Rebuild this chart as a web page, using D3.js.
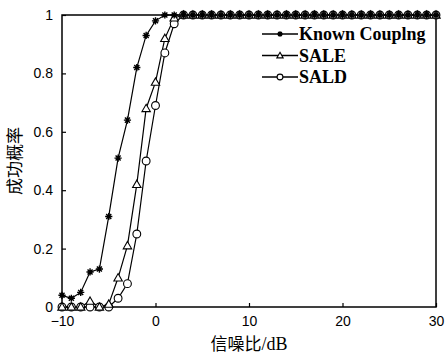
<!DOCTYPE html>
<html><head><meta charset="utf-8">
<script src="https://cdn.jsdelivr.net/npm/d3@7"></script>
<style>body{margin:0;background:#fff;}svg{display:block;}</style>
</head><body><svg id="c" width="446" height="357"></svg>
<script>
const snr = d3.range(-10, 31, 1);
const knownLow = [0.04,0.03,0.05,0.12,0.13,0.31,0.51,0.64,0.82,0.93,0.98,1.0];
const saleLow  = [0,0,0,0.02,0,0.01,0.10,0.21,0.42,0.68,0.77,0.92,0.99];
const saldLow  = [0,0,0,0,0,0,0.03,0.08,0.25,0.50,0.69,0.87,0.97];
const seriesNames = ["Known Couplng","SALE","SALD"];
const xTicks = [-10,0,10,20,30];
const yTicks = [0,0.2,0.4,0.6,0.8,1];
const yTickLabels = ["0","0.2","0.4","0.6","0.8","1"];

function full(low){ return snr.map((x,i)=> i<low.length ? low[i] : 1); }
const series = [
  {name:seriesNames[0], values: full(knownLow), marker:"star"},
  {name:seriesNames[1], values: full(saleLow), marker:"tri"},
  {name:seriesNames[2], values: full(saldLow), marker:"circ"}
];

const svg = d3.select("#c");
const L=62, R=436, T=15, B=307;
const x = d3.scaleLinear().domain([-10,30]).range([L,R]);
const y = d3.scaleLinear().domain([0,1]).range([B,T]);

function drawMarker(g, type, cx, cy, s){
  if(type==="star"){
    const r=3.6*s;
    g.append("path").attr("d",`M${cx-r},${cy}L${cx+r},${cy}M${cx},${cy-r}L${cx},${cy+r}M${cx-r*0.7},${cy-r*0.7}L${cx+r*0.7},${cy+r*0.7}M${cx-r*0.7},${cy+r*0.7}L${cx+r*0.7},${cy-r*0.7}`)
      .attr("stroke","#000").attr("stroke-width",1.4).attr("fill","none");
  } else if(type==="tri"){
    const w=4.2*s, h=4.2*s;
    g.append("path").attr("d",`M${cx},${cy-h}L${cx+w},${cy+h*0.75}L${cx-w},${cy+h*0.75}Z`)
      .attr("stroke","#000").attr("stroke-width",1.1).attr("fill","#fff");
  } else {
    g.append("circle").attr("cx",cx).attr("cy",cy).attr("r",3.9*s)
      .attr("stroke","#000").attr("stroke-width",1.1).attr("fill","#fff");
  }
}

svg.append("rect").attr("x",L).attr("y",T).attr("width",R-L).attr("height",B-T)
  .attr("fill","none").attr("stroke","#000").attr("stroke-width",1.5);

const xAxis = d3.axisBottom(x).tickValues(xTicks).tickSizeInner(-4).tickSizeOuter(0).tickPadding(9);
const gx = svg.append("g").attr("transform",`translate(0,${B})`).call(xAxis);
gx.select(".domain").remove();
gx.selectAll("line").attr("stroke","#000").attr("stroke-width",1.2);
gx.selectAll("text").attr("font-family","Liberation Sans, Arial, sans-serif").attr("font-size",14).attr("fill","#000");

const yAxis = d3.axisLeft(y).tickValues(yTicks).tickFormat((d,i)=>yTickLabels[i]).tickSizeInner(-4).tickSizeOuter(0).tickPadding(9);
const gy = svg.append("g").attr("transform",`translate(${L},0)`).call(yAxis);
gy.select(".domain").remove();
gy.selectAll("line").attr("stroke","#000").attr("stroke-width",1.2);
gy.selectAll("text").attr("font-family","Liberation Sans, Arial, sans-serif").attr("font-size",14).attr("fill","#000");

const line = d3.line().x((d,i)=>x(snr[i])).y(d=>y(d));
const gp = svg.append("g");
series.forEach(s=>{
  gp.append("path").datum(s.values).attr("d",line).attr("fill","none").attr("stroke","#000").attr("stroke-width",1.2);
});
series.slice().reverse().forEach(s=>{
  s.values.forEach((v,i)=>drawMarker(gp, s.marker, x(snr[i]), y(v), 1));
});

const lg = svg.append("g");
series.forEach((s,i)=>{
  const ly = 34 + i*21.5;
  lg.append("line").attr("x1",262).attr("x2",298).attr("y1",ly).attr("y2",ly).attr("stroke","#000").attr("stroke-width",1.3);
  drawMarker(lg, s.marker, 280, ly, 0.75);
  lg.append("text").attr("x",299).attr("y",ly+6).text(s.name)
    .attr("font-family","Liberation Serif, Times New Roman, serif").attr("font-weight","bold").attr("font-size",18).attr("fill","#000");
});

const xt = svg.append("text").attr("x",249).attr("y",350).attr("text-anchor","middle")
  .attr("font-family","Noto Sans CJK SC, sans-serif").attr("font-size",17).attr("fill","#000");
xt.append("tspan").text("信噪比");
xt.append("tspan").attr("font-family","Liberation Serif, serif").attr("font-size",18).text("/dB");
svg.append("text").attr("transform","translate(21,161) rotate(-90)").attr("text-anchor","middle")
  .attr("font-family","Noto Sans CJK SC, sans-serif").attr("font-size",17).attr("fill","#000")
  .text("成功概率");
</script></body></html>
